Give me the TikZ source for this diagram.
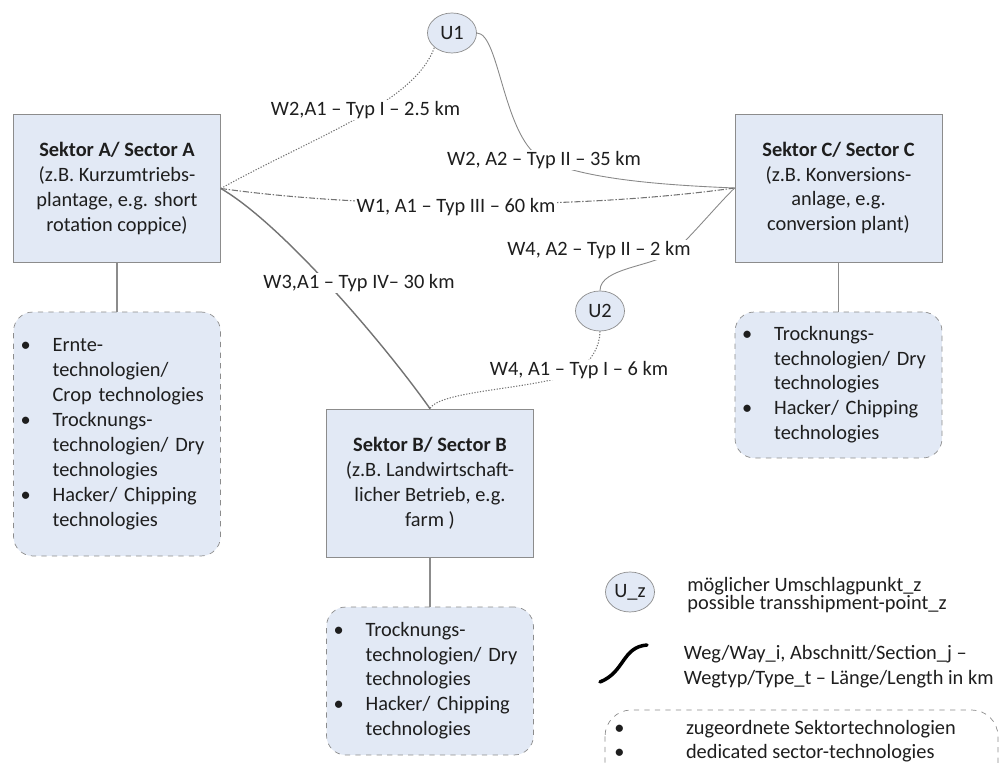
\documentclass[tikz,border=0pt]{standalone}
\usepackage{fontspec}
\setmainfont{Carlito}
\usepackage{xcolor}
\usepackage{tikz}
\usetikzlibrary{shapes.geometric, positioning}

\definecolor{sectorfill}{RGB}{226,233,245}
\definecolor{sectorline}{RGB}{140,140,140}
\definecolor{wayline}{RGB}{115,115,115}
\definecolor{textdark}{RGB}{30,30,30}

\newcommand{\techlist}[1]{\begin{tabular}{@{}l@{\hspace{12.5pt}}l@{}}#1\end{tabular}}
\newcommand{\tightlines}{\fontsize{11.6}{10.4}\selectfont\lineskiplimit=-20pt\relax}

\begin{document}
\begin{tikzpicture}[
    x=0.02cm, y=0.02cm,
    font=\fontsize{11.6}{14.2}\selectfont,
    every node/.append style={text=textdark},
    sector/.style={rectangle, draw=sectorline, fill=sectorfill, align=center, minimum width=4.14cm, minimum height=2.96cm, inner sep=2pt},
    techbox/.style={rectangle, rounded corners=11pt, draw=sectorline, dashed, fill=sectorfill, text width=3.86cm, inner xsep=0.14cm, inner ysep=2pt, align=left},
    upoint/.style={ellipse, draw=sectorline, fill=sectorfill, minimum width=0.98cm, minimum height=0.8cm, inner sep=0pt},
    waylabel/.style={fill=white, inner sep=1pt},
    legendtext/.style={anchor=west, align=left, inner sep=2pt},
    link/.style={draw=sectorline, line width=0.6pt},
    typI/.style={draw=wayline, line width=0.6pt, dash pattern=on 0.7pt off 0.9pt},
    typII/.style={draw=wayline!85, line width=0.5pt},
    typIII/.style={draw=wayline, line width=0.6pt, dash pattern=on 3.5pt off 1pt on 0.8pt off 1pt},
    typIV/.style={draw=wayline, line width=0.8pt}
]
\useasboundingbox (0,0) rectangle (1004,767);

% Sectors
\node[sector] (secA) at (117,578.5) {\textbf{Sektor A/ Sector A}\\(z.B. Kurzumtriebs-\\plantage, e.g. short\\rotation coppice)};
\node[sector] (secC) at (838.5,579) {\textbf{Sektor C/ Sector C}\\(z.B. Konversions-\\anlage, e.g.\\conversion plant)};
\node[sector] (secB) at (430,284) {\textbf{Sektor B/ Sector B}\\(z.B. Landwirtschaft-\\licher Betrieb, e.g.\\farm )};

% Sector technologies
\node[techbox, minimum height=4.88cm] (techA) at (117,333) {\techlist{%
    \textbullet & Ernte-\\ & technologien/\\ & Crop technologies\\
    \textbullet & Trocknungs-\\ & technologien/ Dry\\ & technologies\\
    \textbullet & Hacker/ Chipping\\ & technologies}};
\node[techbox, minimum height=2.92cm] (techC) at (838.5,382) {\techlist{%
    \textbullet & Trocknungs-\\ & technologien/ Dry\\ & technologies\\
    \textbullet & Hacker/ Chipping\\ & technologies}};
\node[techbox, minimum height=2.96cm] (techB) at (430,86) {\techlist{%
    \textbullet & Trocknungs-\\ & technologien/ Dry\\ & technologies\\
    \textbullet & Hacker/ Chipping\\ & technologies}};

\draw[link] (secA) -- (techA);
\draw[link] (secC) -- (techC);
\draw[link] (secB) -- (techB);

% Transshipment points
\node[upoint] (U1) at (452,734) {U1};
\node[upoint] (U2) at (600,456) {U2};

% Ways
\coordinate (mW2A2) at (544,607);
\coordinate (mW4A2) at (676,517);
\coordinate (mW4A1) at (579,397);

\draw[typI] (secA.east) .. controls (317,632) and (414,663.6) .. (U1.south west);
\draw[typII] (U1.east) .. controls (500,734) and (503,626) .. (mW2A2) .. controls (585,588) and (660,582) .. (secC.west);
\draw[typIII] (secA.east) .. controls (371,557.5) and (585,558) .. (secC.west);
\draw[typII] (secC.west) .. controls (720,565) and (695,535) .. (mW4A2) .. controls (655,500) and (600,500) .. (U2.north);
\draw[typI] (U2.south) .. controls (600,420) and (590,405) .. (mW4A1) .. controls (550,378) and (440,378) .. (secB.north);
\draw[typIV] (secA.east) .. controls (282,543) and (384,423.5) .. (secB.north);

\node[waylabel] (lW2A1) at (365.5,657) {W2,A1 -- Typ I -- 2.5 km};
\node[waylabel] (lW2A2) at (544,607) {W2, A2 -- Typ II -- 35 km};
\node[waylabel] (lW1A1) at (456,560) {W1, A1 -- Typ III -- 60 km};
\node[waylabel] (lW4A2) at (599,517) {W4, A2 -- Typ II -- 2 km};
\node[waylabel] (lW3A1) at (359,484) {W3,A1 -- Typ IV-- 30 km};
\node[waylabel] (lW4A1) at (579,397) {W4, A1 -- Typ I -- 6 km};

% Legend
\node[upoint] (Uz) at (630,175) {U\_z};
\node[legendtext, font=\tightlines] (legU) at (683.5,172) {möglicher Umschlagpunkt\_z\\possible transshipment-point\_z};

\coordinate (wayS) at (600,85);
\coordinate (wayE) at (647,122);
\draw[black, line width=2pt, line cap=round] (wayS) .. controls (625,95) and (622,120) .. (wayE);
\node[legendtext] (legW) at (680,100.5) {Weg/Way\_i, Abschnitt/Section\_j --\\Wegtyp/Type\_t -- Länge/Length in km};

\begin{scope}
\clip (0,0) rectangle (1004,767);
\draw[sectorline, dashed, rounded corners=15pt] (605,57) rectangle (998,-40);
\end{scope}
\node[anchor=west, inner sep=0pt] (legT) at (614,25.5) {\begin{tabular}{@{}l@{\hspace{35pt}}l@{}}\textbullet & zugeordnete Sektortechnologien\\ \textbullet & dedicated sector-technologies\end{tabular}};
\end{tikzpicture}
\end{document}
